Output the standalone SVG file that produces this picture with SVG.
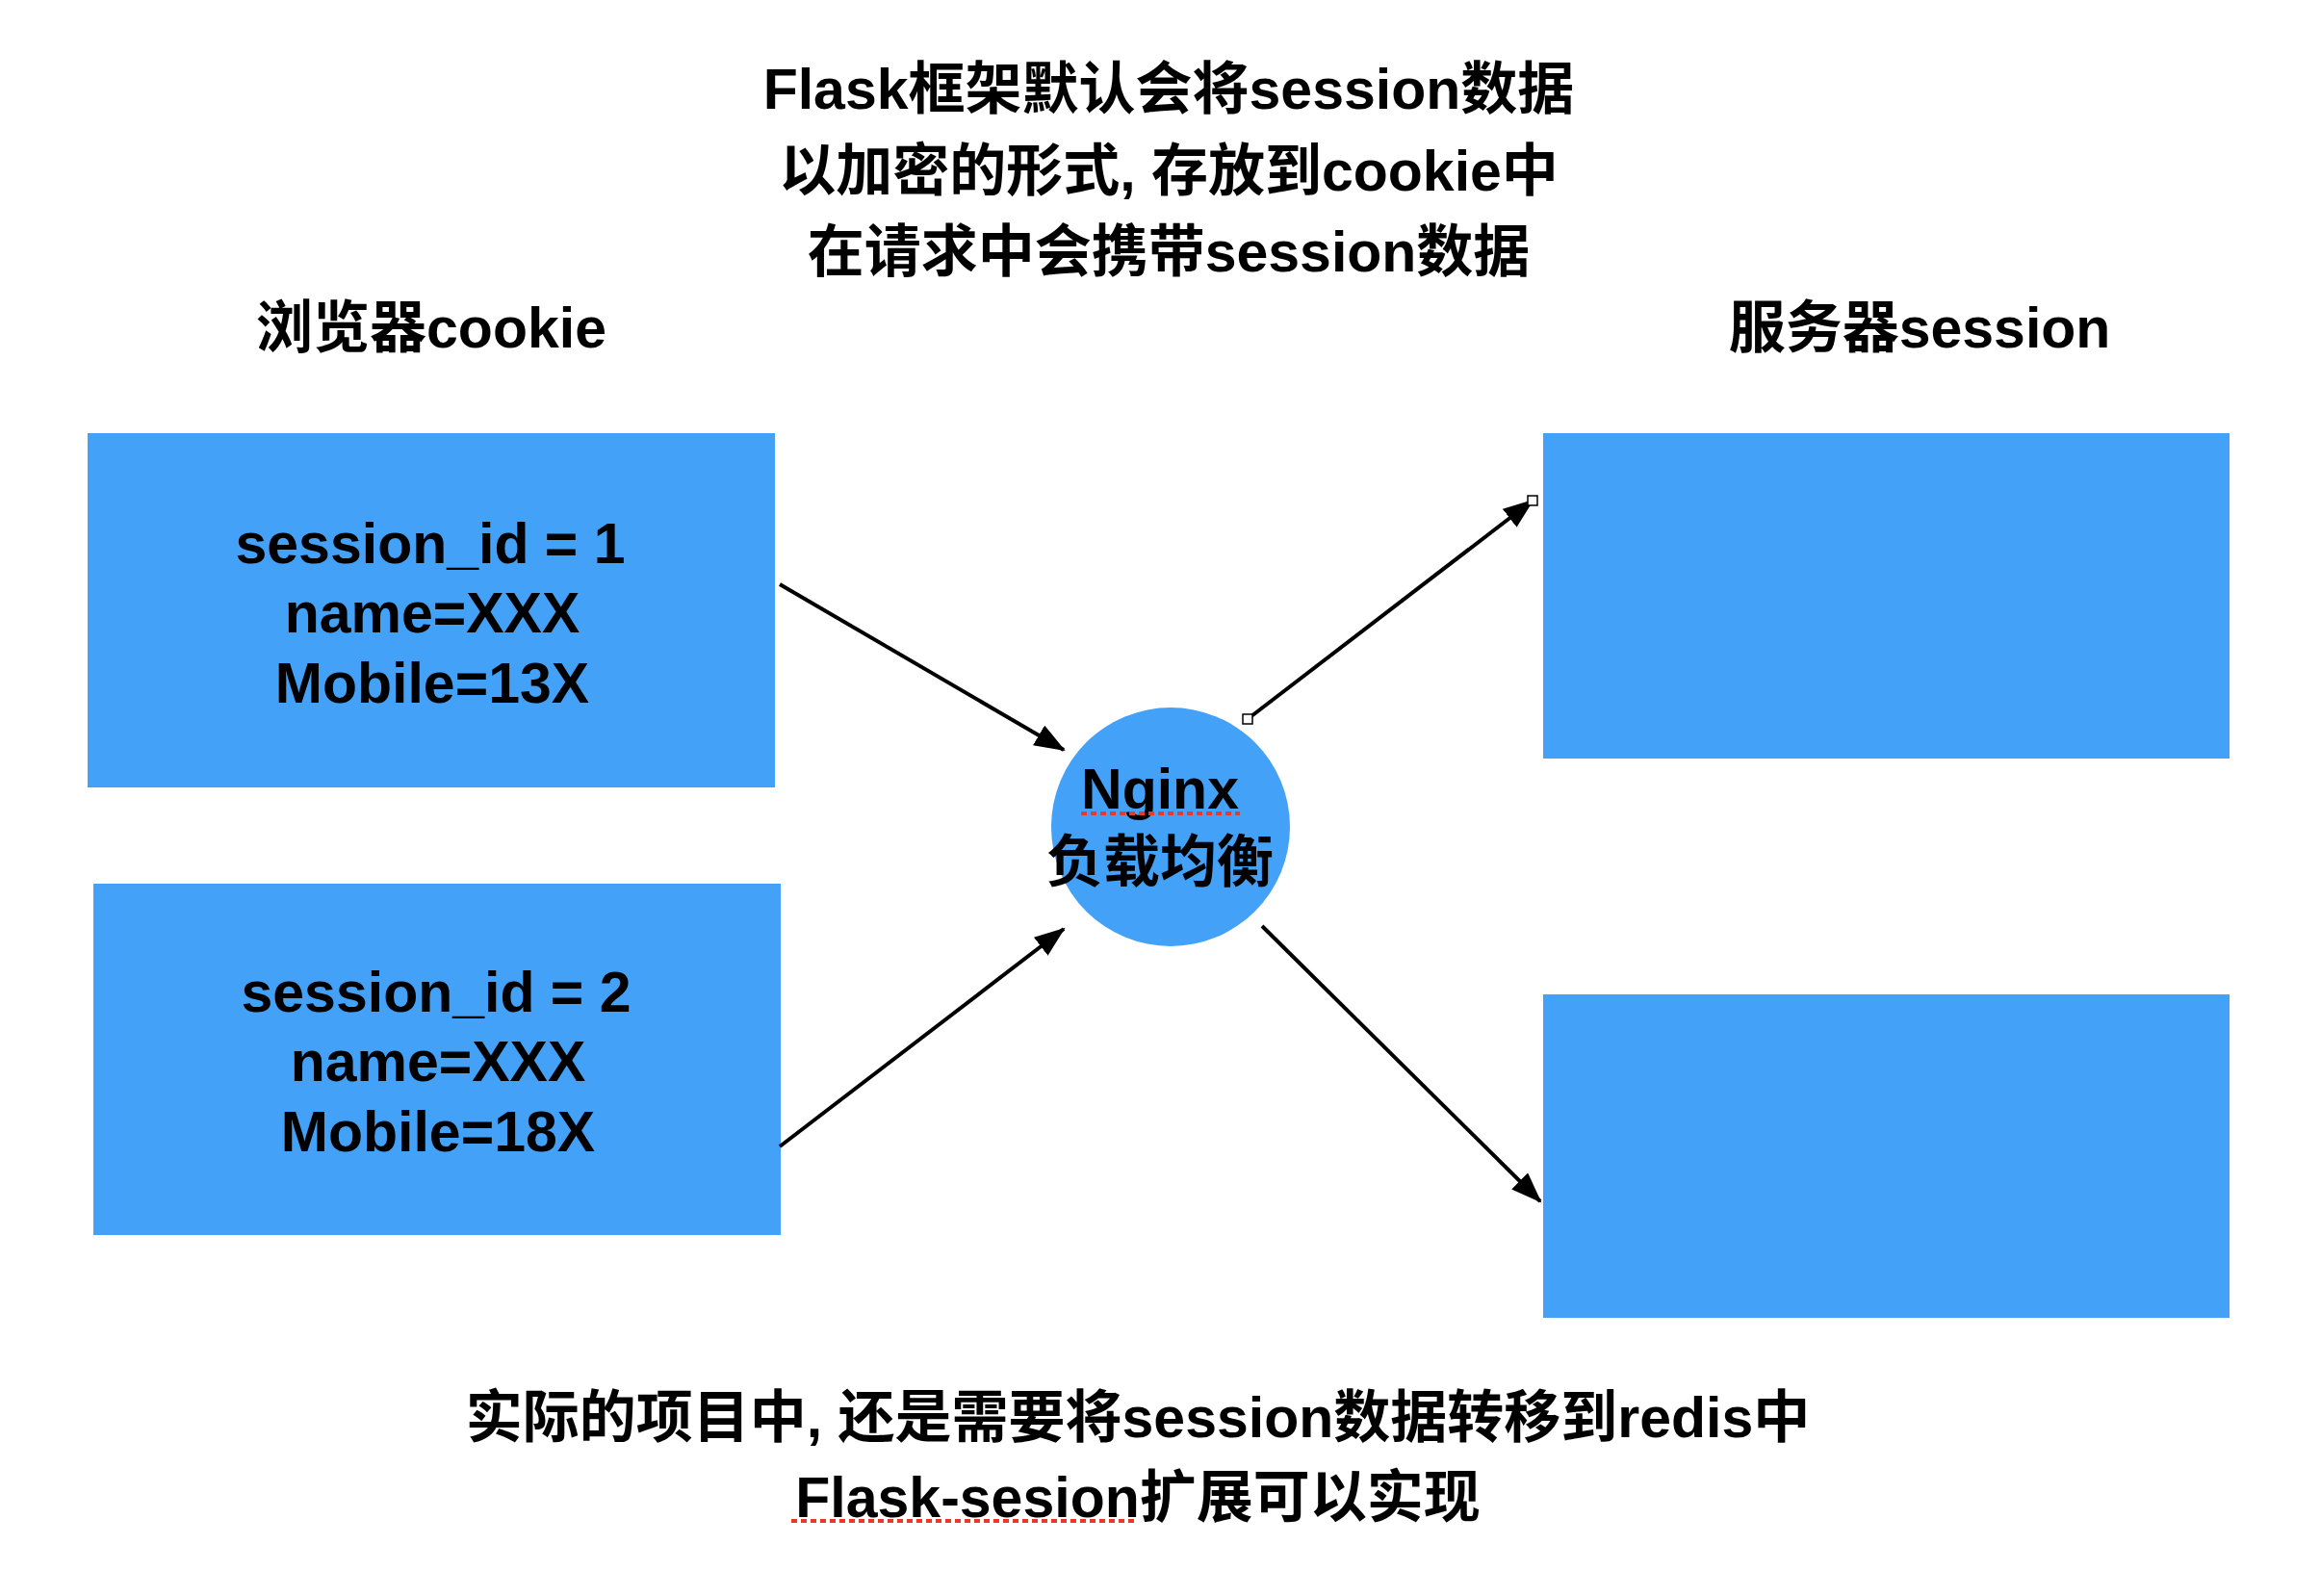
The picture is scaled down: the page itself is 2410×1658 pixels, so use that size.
<svg xmlns="http://www.w3.org/2000/svg" width="2410" height="1658" viewBox="0 0 2410 1658">
<defs>
<style>
.t{font-family:"Liberation Sans","Noto Sans CJK SC",sans-serif;font-weight:bold;font-size:59px;fill:#000;text-anchor:middle}
.box{fill:#43A1F7}
.conn{stroke:#000;stroke-width:4;fill:none;marker-end:url(#ah)}
.handle{fill:#fff;stroke:#000;stroke-width:1.5}
.spell{stroke:#E8392B;stroke-width:4;stroke-dasharray:6 4;fill:none}
</style>
<marker id="ah" markerUnits="userSpaceOnUse" markerWidth="34" markerHeight="28" refX="30" refY="12" orient="auto">
<path d="M0,0 L32,12 L0,24 Z" fill="#000"/>
</marker>
</defs>
<rect width="2410" height="1658" fill="#fff"/>
<g id="title">
<text class="t" x="1214" y="113">Flask框架默认会将session数据</text>
<text class="t" x="1214" y="198">以加密的形式, 存放到cookie中</text>
<text class="t" x="1214" y="282">在请求中会携带session数据</text>
</g>
<g id="label-browser"><text class="t" x="448" y="361">浏览器cookie</text></g>
<g id="label-server"><text class="t" x="1994" y="361">服务器session</text></g>
<g id="cookie1">
<rect class="box" x="91" y="450" width="714" height="368"/>
<text class="t" x="447" y="585">session_id = 1</text>
<text class="t" x="449" y="657">name=XXX</text>
<text class="t" x="449" y="730">Mobile=13X</text>
</g>
<g id="cookie2">
<rect class="box" x="97" y="918" width="714" height="365"/>
<text class="t" x="453" y="1051">session_id = 2</text>
<text class="t" x="455" y="1123">name=XXX</text>
<text class="t" x="455" y="1196">Mobile=18X</text>
</g>
<g id="server1"><rect class="box" x="1603" y="450" width="713" height="338"/></g>
<g id="server2"><rect class="box" x="1603" y="1033" width="713" height="336"/></g>
<g id="nginx">
<circle class="box" cx="1216" cy="859" r="124"/>
<text class="t" x="1205" y="840">Nginx</text>
<line class="spell" x1="1123" y1="845" x2="1288" y2="845"/>
<text class="t" x="1205" y="916">负载均衡</text>
</g>
<g id="connectors">
<line class="conn" x1="810" y1="607" x2="1105" y2="779"/>
<line class="conn" x1="810" y1="1191" x2="1105" y2="965"/>
<line class="conn" x1="1296" y1="747" x2="1592" y2="520"/>
<line class="conn" x1="1311" y1="962" x2="1600" y2="1248"/>
<rect class="handle" x="1291" y="742" width="10" height="10"/>
<rect class="handle" x="1587" y="515" width="10" height="10"/>
</g>
<g id="footer">
<text class="t" x="1182" y="1493">实际的项目中, 还是需要将session数据转移到redis中</text>
<text class="t" x="1182" y="1576">Flask-sesion扩展可以实现</text>
<line class="spell" x1="822" y1="1580" x2="1179" y2="1580"/>
</g>
</svg>
